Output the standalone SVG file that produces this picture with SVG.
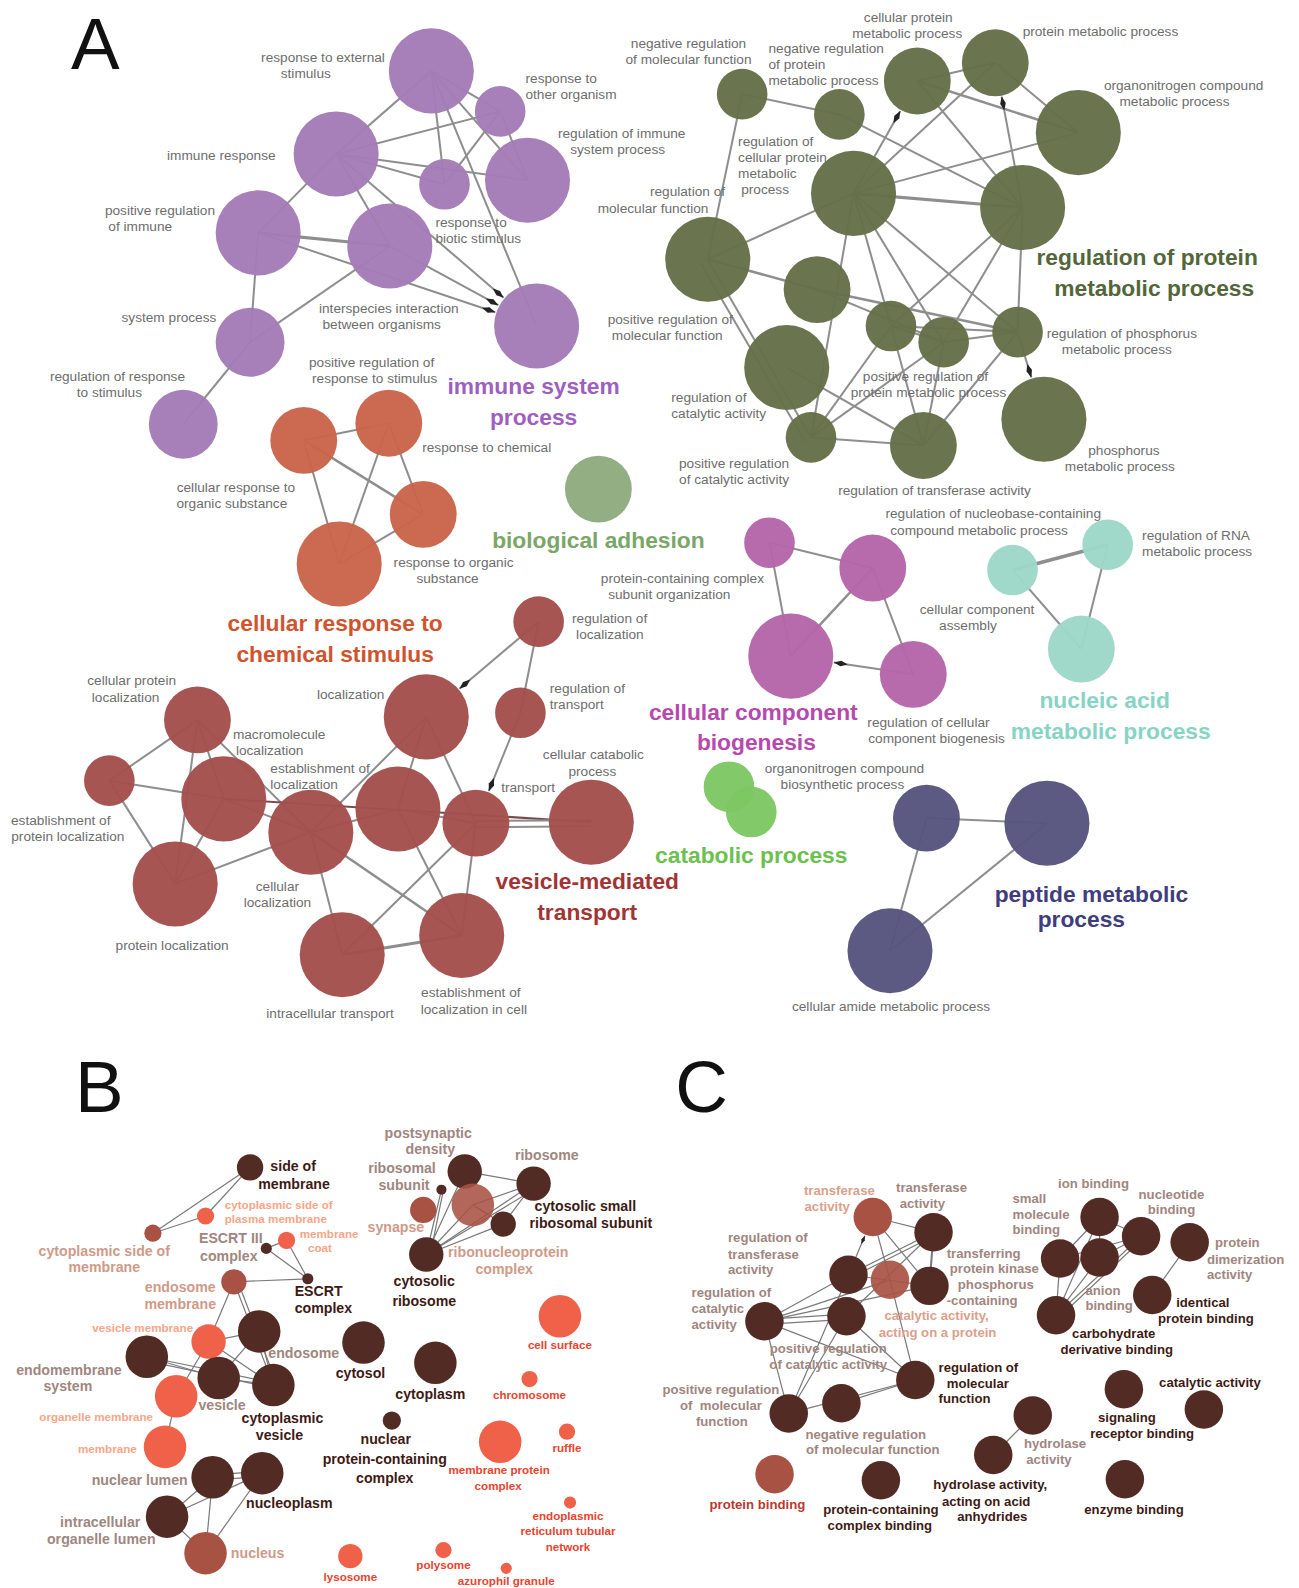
<svg xmlns="http://www.w3.org/2000/svg" width="1299" height="1588" viewBox="0 0 1299 1588">
<defs>
<style>
text{font-family:"Liberation Sans",Arial,Helvetica,sans-serif}
.la{font-size:13.5px;fill:#6d6d6d}
.ti{font-size:22.5px;font-weight:bold}
.bl{font-size:14px;font-weight:bold}
.cl{font-size:13px;font-weight:bold}
.sm{font-size:11.5px;font-weight:bold}
.pl{font-size:72px;fill:#111}
.m{text-anchor:middle}
.dk{fill:#3d1a14}.tn{fill:#a08680}.pk{fill:#cf9a88}.lo{fill:#f7a587}.ro{fill:#e8432e}.tf{fill:#dba08c}.pb{fill:#b8392e}
.np{fill:#a47cb8}.no{fill:#c9654a}.ng{fill:#8fab7e}.nv{fill:#657049}.nm{fill:#b566aa}.nc{fill:#9dd7c8}.nl{fill:#7ec764;opacity:0.8}.nn{fill:#57547f}.nr{fill:#a34f4d}
.A circle{opacity:0.97}
.bd{fill:#532b25}.bm{fill:#a85244}.bo{fill:#ef6249}
.ea line{stroke:#8e8e8e;stroke-width:2}
.eb line{stroke:#7a7a7a;stroke-width:1.2}
</style>
<marker id="dia" markerUnits="userSpaceOnUse" markerWidth="16" markerHeight="8" viewBox="0 0 16 8" refX="15" refY="4" orient="auto"><path d="M1,4 L8,1.2 L15,4 L8,6.8 Z" fill="#222"/></marker>
<marker id="dis" markerUnits="userSpaceOnUse" markerWidth="10" markerHeight="5" viewBox="0 0 10 5" refX="9.5" refY="2.5" orient="auto"><path d="M0.5,2.5 L5,0.7 L9.5,2.5 L5,4.3 Z" fill="#222"/></marker>
</defs>
<rect width="1299" height="1588" fill="#ffffff"/>
<g transform="scale(1.0125)">
<text class="pl" x="70" y="68">A</text>
<text class="pl" x="74" y="1098">B</text>
<text class="pl" x="667" y="1098">C</text>

<g id="connectors-A" class="ea">
<line x1="426" y1="70" x2="332" y2="152"/>
<line x1="332" y1="152" x2="494" y2="110"/>
<line x1="426" y1="70" x2="494" y2="110"/>
<line x1="426" y1="70" x2="521" y2="178"/>
<line x1="426" y1="70" x2="439" y2="182"/>
<line x1="426" y1="70" x2="530" y2="322"/>
<line x1="494" y1="110" x2="439" y2="182"/>
<line x1="494" y1="110" x2="521" y2="178"/>
<line x1="332" y1="152" x2="521" y2="178"/>
<line x1="332" y1="152" x2="439" y2="182"/>
<line x1="332" y1="152" x2="255" y2="230"/>
<line x1="332" y1="152" x2="385" y2="243"/>
<line x1="332" y1="152" x2="497.4" y2="294" marker-end="url(#dia)"/>
<line x1="255" y1="230" x2="385" y2="243" style="stroke-width:3"/>
<line x1="255" y1="230" x2="489.2" y2="308.4" marker-end="url(#dia)"/>
<line x1="385" y1="243" x2="492.2" y2="301.4" marker-end="url(#dia)"/>
<line x1="255" y1="230" x2="247" y2="338"/>
<line x1="385" y1="243" x2="247" y2="338"/>
<line x1="247" y1="338" x2="181" y2="419"/>
<line x1="300" y1="435" x2="384" y2="418"/>
<line x1="300" y1="435" x2="418" y2="508" style="stroke-width:2.5"/>
<line x1="300" y1="435" x2="335" y2="557"/>
<line x1="384" y1="418" x2="335" y2="557"/>
<line x1="384" y1="418" x2="418" y2="508"/>
<line x1="418" y1="508" x2="335" y2="557"/>
<line x1="733" y1="93" x2="829" y2="113"/>
<line x1="733" y1="93" x2="699" y2="256"/>
<line x1="829" y1="113" x2="1010" y2="205"/>
<line x1="906" y1="80" x2="983" y2="62"/>
<line x1="906" y1="80" x2="1065" y2="131" style="stroke-width:2.5"/>
<line x1="906" y1="80" x2="1010" y2="205"/>
<line x1="983" y1="62" x2="1065" y2="131"/>
<line x1="1010" y1="205" x2="989.3" y2="95.4" marker-end="url(#dia)"/>
<line x1="843" y1="191" x2="889.2" y2="109.6" marker-end="url(#dia)"/>
<line x1="983" y1="62" x2="843" y2="191"/>
<line x1="1065" y1="131" x2="843" y2="191"/>
<line x1="843" y1="191" x2="1010" y2="205" style="stroke-width:3"/>
<line x1="843" y1="191" x2="699" y2="256"/>
<line x1="843" y1="191" x2="801" y2="432"/>
<line x1="843" y1="191" x2="880" y2="322"/>
<line x1="843" y1="191" x2="932" y2="338"/>
<line x1="843" y1="191" x2="1005" y2="328"/>
<line x1="1010" y1="205" x2="880" y2="322"/>
<line x1="1010" y1="205" x2="932" y2="338"/>
<line x1="1010" y1="205" x2="1005" y2="328"/>
<line x1="699" y1="256" x2="807" y2="286" style="stroke-width:2.5"/>
<line x1="699" y1="256" x2="801" y2="432"/>
<line x1="692" y1="260" x2="795" y2="436"/>
<line x1="807" y1="286" x2="1005" y2="328" style="stroke-width:2.5"/>
<line x1="807" y1="286" x2="932" y2="338"/>
<line x1="880" y1="322" x2="932" y2="338"/>
<line x1="932" y1="338" x2="1005" y2="328"/>
<line x1="880" y1="322" x2="1005" y2="328"/>
<line x1="880" y1="322" x2="801" y2="432"/>
<line x1="932" y1="338" x2="801" y2="432"/>
<line x1="880" y1="322" x2="912" y2="440"/>
<line x1="932" y1="338" x2="912" y2="440"/>
<line x1="1005" y1="328" x2="912" y2="440"/>
<line x1="801" y1="432" x2="912" y2="440"/>
<line x1="777" y1="363" x2="912" y2="440"/>
<line x1="1005" y1="328" x2="1018.6" y2="372.8" marker-end="url(#dia)"/>
<line x1="760" y1="536" x2="862" y2="561"/>
<line x1="760" y1="536" x2="781" y2="648"/>
<line x1="862" y1="561" x2="781" y2="648" style="stroke-width:2.5"/>
<line x1="862" y1="561" x2="902" y2="666"/>
<line x1="902" y1="666" x2="823.5" y2="654.3" marker-end="url(#dia)"/>
<line x1="1000" y1="563" x2="1094" y2="538" style="stroke-width:3.5"/>
<line x1="1094" y1="538" x2="1068" y2="641"/>
<line x1="1000" y1="563" x2="1068" y2="641"/>
<line x1="915" y1="808" x2="1034" y2="813"/>
<line x1="915" y1="808" x2="879" y2="939"/>
<line x1="1034" y1="813" x2="879" y2="939"/>
<line x1="532" y1="614" x2="453.8" y2="680.2" marker-end="url(#dia)"/>
<line x1="532" y1="614" x2="514" y2="704"/>
<line x1="514" y1="704" x2="482.7" y2="781.4" marker-end="url(#dia)"/>
<line x1="421" y1="708" x2="307" y2="822"/>
<line x1="421" y1="708" x2="393" y2="799"/>
<line x1="421" y1="708" x2="470" y2="813"/>
<line x1="195" y1="711" x2="108" y2="771"/>
<line x1="195" y1="711" x2="221" y2="789"/>
<line x1="195" y1="711" x2="173" y2="873"/>
<line x1="195" y1="711" x2="307" y2="822"/>
<line x1="108" y1="771" x2="221" y2="789"/>
<line x1="108" y1="771" x2="173" y2="873"/>
<line x1="221" y1="789" x2="173" y2="873"/>
<line x1="221" y1="789" x2="307" y2="822"/>
<line x1="221" y1="789" x2="584" y2="812" style="stroke:#7a4b4b"/>
<line x1="173" y1="873" x2="307" y2="822"/>
<line x1="307" y1="822" x2="393" y2="799"/>
<line x1="307" y1="822" x2="338" y2="943"/>
<line x1="307" y1="822" x2="456" y2="924" style="stroke-width:2.5"/>
<line x1="393" y1="799" x2="470" y2="813"/>
<line x1="393" y1="799" x2="456" y2="924"/>
<line x1="470" y1="811" x2="584" y2="810"/>
<line x1="470" y1="817" x2="584" y2="816"/>
<line x1="470" y1="813" x2="338" y2="943"/>
<line x1="470" y1="813" x2="456" y2="924"/>
<line x1="338" y1="943" x2="456" y2="924" style="stroke-width:3"/>
</g>

<g class="A">
<g id="response-to-external-stimulus"><circle class="np" cx="426" cy="70" r="42"/><text class="la m" x="319" y="61">response to external</text><text class="la m" x="302" y="77">stimulus</text></g>
<g id="response-to-other-organism"><circle class="np" cx="494" cy="110" r="25"/><text class="la" x="519" y="82">response to</text><text class="la" x="519" y="98">other organism</text></g>
<g id="immune-response"><circle class="np" cx="332" cy="152" r="42"/><text class="la" x="165" y="158">immune response</text></g>
<g id="regulation-of-immune-system-process"><circle class="np" cx="521" cy="178" r="42"/><text class="la m" x="614" y="136">regulation of immune</text><text class="la m" x="610" y="152">system process</text></g>
<g id="response-to-biotic-stimulus"><circle class="np" cx="439" cy="182" r="25"/><text class="la" x="430" y="224">response to</text><text class="la" x="430" y="240">biotic stimulus</text></g>
<g id="positive-regulation-of-immune"><circle class="np" cx="255" cy="230" r="42"/><text class="la m" x="158" y="212">positive regulation</text><text class="la" x="107" y="228">of immune</text></g>
<g id="interspecies-interaction"><circle class="np" cx="385" cy="243" r="42"/><text class="la m" x="384" y="309">interspecies interaction</text><text class="la m" x="377" y="325">between organisms</text></g>
<g id="positive-regulation-of-response-to-stimulus"><circle class="np" cx="530" cy="322" r="42"/><text class="la m" x="367" y="362">positive regulation of</text><text class="la m" x="370" y="378">response to stimulus</text></g>
<g id="system-process"><circle class="np" cx="247" cy="338" r="34"/><text class="la" x="120" y="318">system process</text></g>
<g id="regulation-of-response-to-stimulus"><circle class="np" cx="181" cy="419" r="34"/><text class="la m" x="116" y="376">regulation of response</text><text class="la m" x="108" y="392">to stimulus</text></g>
<g id="title-immune"><text class="ti m" x="527" y="389" style="fill:#9e5fc0">immune system</text><text class="ti m" x="527" y="420" style="fill:#9e5fc0">process</text></g>

<g id="cellular-response-to-organic-substance"><circle class="no" cx="300" cy="435" r="33"/><text class="la m" x="233" y="486">cellular response to</text><text class="la m" x="229" y="502">organic substance</text></g>
<g id="response-to-chemical"><circle class="no" cx="384" cy="418" r="33"/><text class="la" x="417" y="446">response to chemical</text></g>
<g id="response-to-organic-substance"><circle class="no" cx="418" cy="508" r="33"/><text class="la m" x="448" y="560">response to organic</text><text class="la m" x="442" y="576">substance</text></g>
<g id="cellular-response-to-chemical-stimulus"><circle class="no" cx="335" cy="557" r="42"/><text class="ti m" x="331" y="623" style="fill:#d0532e">cellular response to</text><text class="ti m" x="331" y="654" style="fill:#d0532e">chemical stimulus</text></g>

<g id="biological-adhesion"><circle class="ng" cx="591" cy="483" r="33"/><text class="ti m" x="591" y="541" style="fill:#7aa768">biological adhesion</text></g>

<g id="negative-regulation-of-molecular-function"><circle class="nv" cx="733" cy="93" r="25"/><text class="la m" x="680" y="47">negative regulation</text><text class="la m" x="680" y="63">of molecular function</text></g>
<g id="negative-regulation-of-protein-metabolic-process"><circle class="nv" cx="829" cy="113" r="25"/><text class="la" x="759" y="52">negative regulation</text><text class="la" x="759" y="68">of protein</text><text class="la" x="759" y="84">metabolic process</text></g>
<g id="cellular-protein-metabolic-process"><circle class="nv" cx="906" cy="80" r="33"/><text class="la m" x="897" y="22">cellular protein</text><text class="la m" x="896" y="38">metabolic process</text></g>
<g id="protein-metabolic-process"><circle class="nv" cx="983" cy="62" r="33"/><text class="la" x="1010" y="36">protein metabolic process</text></g>
<g id="organonitrogen-compound-metabolic-process"><circle class="nv" cx="1065" cy="131" r="42"/><text class="la m" x="1169" y="89">organonitrogen compound</text><text class="la m" x="1160" y="105">metabolic process</text></g>
<g id="regulation-of-cellular-protein-metabolic-process"><circle class="nv" cx="843" cy="191" r="42"/><text class="la" x="729" y="144">regulation of</text><text class="la" x="729" y="160">cellular protein</text><text class="la" x="729" y="176">metabolic</text><text class="la" x="732" y="192">process</text></g>
<g id="regulation-of-protein-metabolic-process"><circle class="nv" cx="1010" cy="205" r="42"/><text class="ti m" x="1133" y="262" style="fill:#53663a">regulation of protein</text><text class="ti m" x="1140" y="292" style="fill:#53663a">metabolic process</text></g>
<g id="regulation-of-molecular-function"><circle class="nv" cx="699" cy="256" r="42"/><text class="la m" x="679" y="194">regulation of</text><text class="la m" x="645" y="210">molecular function</text></g>
<g id="positive-regulation-of-molecular-function"><circle class="nv" cx="807" cy="286" r="33"/><text class="la m" x="662" y="320">positive regulation of</text><text class="la m" x="659" y="336">molecular function</text></g>
<g id="positive-regulation-of-protein-metabolic-process"><circle class="nv" cx="880" cy="322" r="25"/><circle class="nv" cx="932" cy="338" r="25"/><text class="la m" x="914" y="376">positive regulation of</text><text class="la m" x="917" y="392">protein metabolic process</text></g>
<g id="regulation-of-phosphorus-metabolic-process"><circle class="nv" cx="1005" cy="328" r="25"/><text class="la m" x="1108" y="334">regulation of phosphorus</text><text class="la m" x="1103" y="350">metabolic process</text></g>
<g id="regulation-of-catalytic-activity"><circle class="nv" cx="777" cy="363" r="42"/><text class="la" x="663" y="397">regulation of</text><text class="la" x="663" y="413">catalytic activity</text></g>
<g id="positive-regulation-of-catalytic-activity"><circle class="nv" cx="801" cy="432" r="25"/><text class="la m" x="725" y="462">positive regulation</text><text class="la m" x="725" y="478">of catalytic activity</text></g>
<g id="regulation-of-transferase-activity"><circle class="nv" cx="912" cy="440" r="33"/><text class="la m" x="923" y="489">regulation of transferase activity</text></g>
<g id="phosphorus-metabolic-process"><circle class="nv" cx="1031" cy="414" r="42"/><text class="la m" x="1110" y="449">phosphorus</text><text class="la m" x="1106" y="465">metabolic process</text></g>

<g id="protein-containing-complex-subunit-organization"><circle class="nm" cx="760" cy="536" r="25"/><text class="la m" x="674" y="576">protein-containing complex</text><text class="la m" x="661" y="592">subunit organization</text></g>
<g id="regulation-of-nucleobase-containing"><circle class="nm" cx="862" cy="561" r="33"/><text class="la m" x="981" y="512">regulation of nucleobase-containing</text><text class="la m" x="967" y="528">compound metabolic process</text></g>
<g id="cellular-component-biogenesis"><circle class="nm" cx="781" cy="648" r="42"/><text class="ti m" x="744" y="711" style="fill:#b54aac">cellular component</text><text class="ti m" x="747" y="741" style="fill:#b54aac">biogenesis</text></g>
<g id="regulation-of-cellular-component-biogenesis"><circle class="nm" cx="902" cy="666" r="33"/><text class="la m" x="917" y="718">regulation of cellular</text><text class="la m" x="925" y="734">component biogenesis</text></g>

<g id="cellular-component-assembly"><circle class="nc" cx="1000" cy="563" r="25"/><text class="la m" x="965" y="606">cellular component</text><text class="la m" x="956" y="622">assembly</text></g>
<g id="regulation-of-RNA-metabolic-process"><circle class="nc" cx="1094" cy="538" r="25"/><text class="la" x="1128" y="533">regulation of RNA</text><text class="la" x="1128" y="549">metabolic process</text></g>
<g id="nucleic-acid-metabolic-process"><circle class="nc" cx="1068" cy="641" r="33"/><text class="ti m" x="1091" y="699" style="fill:#87d4c4">nucleic acid</text><text class="ti m" x="1097" y="730" style="fill:#87d4c4">metabolic process</text></g>

<g id="catabolic-process"><circle class="nl" cx="720" cy="777" r="25"/><text class="ti m" x="742" y="852" style="fill:#6cc04f">catabolic process</text></g>
<g id="organonitrogen-compound-biosynthetic-process"><circle class="nl" cx="742" cy="802" r="25"/><text class="la m" x="834" y="763">organonitrogen compound</text><text class="la m" x="832" y="779">biosynthetic process</text></g>

<g id="peptide-node-1"><circle class="nn" cx="915" cy="808" r="33"/></g>
<g id="peptide-metabolic-process"><circle class="nn" cx="1034" cy="813" r="42"/><text class="ti m" x="1078" y="891" style="fill:#403d7e">peptide metabolic</text><text class="ti m" x="1068" y="916" style="fill:#403d7e">process</text></g>
<g id="cellular-amide-metabolic-process"><circle class="nn" cx="879" cy="939" r="42"/><text class="la m" x="880" y="999">cellular amide metabolic process</text></g>

<g id="regulation-of-localization"><circle class="nr" cx="532" cy="614" r="25"/><text class="la" x="565" y="615">regulation of</text><text class="la" x="569" y="631">localization</text></g>
<g id="regulation-of-transport"><circle class="nr" cx="514" cy="704" r="25"/><text class="la" x="543" y="684">regulation of</text><text class="la" x="543" y="700">transport</text></g>
<g id="localization"><circle class="nr" cx="421" cy="708" r="42"/><text class="la" x="313" y="690">localization</text></g>
<g id="cellular-protein-localization"><circle class="nr" cx="195" cy="711" r="33"/><text class="la m" x="130" y="677">cellular protein</text><text class="la m" x="124" y="693">localization</text></g>
<g id="establishment-of-protein-localization"><circle class="nr" cx="108" cy="771" r="25"/><text class="la m" x="60" y="815">establishment of</text><text class="la m" x="67" y="831">protein localization</text></g>
<g id="macromolecule-localization"><circle class="nr" cx="221" cy="789" r="42"/><text class="la" x="230" y="730">macromolecule</text><text class="la" x="233" y="746">localization</text></g>
<g id="establishment-of-localization"><circle class="nr" cx="393" cy="799" r="42"/><text class="la" x="267" y="763">establishment of</text><text class="la" x="267" y="779">localization</text></g>
<g id="cellular-localization"><circle class="nr" cx="307" cy="822" r="42"/><text class="la m" x="274" y="880">cellular</text><text class="la m" x="274" y="896">localization</text></g>
<g id="transport"><circle class="nr" cx="470" cy="813" r="33"/><text class="la" x="495" y="782">transport</text></g>
<g id="cellular-catabolic-process"><circle class="nr" cx="584" cy="812" r="42"/><text class="la m" x="586" y="750">cellular catabolic</text><text class="la m" x="585" y="766">process</text></g>
<g id="protein-localization"><circle class="nr" cx="173" cy="873" r="42"/><text class="la m" x="170" y="938">protein localization</text></g>
<g id="intracellular-transport"><circle class="nr" cx="338" cy="943" r="42"/><text class="la m" x="326" y="1005">intracellular transport</text></g>
<g id="establishment-of-localization-in-cell"><circle class="nr" cx="456" cy="924" r="42"/><text class="la m" x="465" y="985">establishment of</text><text class="la m" x="468" y="1001">localization in cell</text></g>
<g id="title-vesicle"><text class="ti m" x="580" y="878" style="fill:#a13434">vesicle-mediated</text><text class="ti m" x="580" y="909" style="fill:#a13434">transport</text></g>
</g>

<g id="connectors-BC" class="eb">
<line x1="247" y1="1153" x2="151" y2="1218"/>
<line x1="247" y1="1153" x2="203" y2="1201"/>
<line x1="203" y1="1201" x2="151" y2="1218"/>
<line x1="263" y1="1233" x2="304" y2="1263"/>
<line x1="283" y1="1225" x2="304" y2="1263"/>
<line x1="263" y1="1233" x2="283" y2="1225"/>
<line x1="231" y1="1266" x2="304" y2="1263"/>
<line x1="231" y1="1266" x2="206" y2="1325"/>
<line x1="231" y1="1266" x2="270" y2="1368"/>
<line x1="235" y1="1266" x2="274" y2="1368"/>
<line x1="206" y1="1325" x2="256" y2="1315"/>
<line x1="206" y1="1325" x2="216" y2="1361"/>
<line x1="206" y1="1325" x2="174" y2="1379"/>
<line x1="206" y1="1325" x2="270" y2="1368"/>
<line x1="256" y1="1315" x2="216" y2="1361"/>
<line x1="256" y1="1315" x2="270" y2="1368"/>
<line x1="145" y1="1340" x2="270" y2="1366"/>
<line x1="145" y1="1344" x2="270" y2="1371"/>
<line x1="145" y1="1340" x2="216" y2="1361"/>
<line x1="216" y1="1361" x2="270" y2="1368"/>
<line x1="174" y1="1379" x2="163" y2="1429"/>
<line x1="210" y1="1457" x2="259" y2="1453"/>
<line x1="210" y1="1462" x2="259" y2="1458"/>
<line x1="210" y1="1459" x2="165" y2="1498"/>
<line x1="259" y1="1455" x2="165" y2="1498"/>
<line x1="210" y1="1459" x2="203" y2="1534"/>
<line x1="259" y1="1455" x2="203" y2="1534"/>
<line x1="165" y1="1498" x2="203" y2="1534"/>
<line x1="459" y1="1157" x2="527" y2="1169"/>
<line x1="467" y1="1190" x2="527" y2="1169"/>
<line x1="527" y1="1169" x2="497" y2="1209"/>
<line x1="467" y1="1190" x2="497" y2="1209"/>
<line x1="421" y1="1239" x2="436" y2="1175"/>
<line x1="425" y1="1239" x2="438" y2="1175"/>
<line x1="421" y1="1239" x2="459" y2="1157"/>
<line x1="421" y1="1239" x2="467" y2="1190"/>
<line x1="421" y1="1239" x2="527" y2="1169"/>
<line x1="421" y1="1239" x2="497" y2="1209"/>
<line x1="421" y1="1239" x2="527" y2="1175"/>
<line x1="862" y1="1202" x2="922" y2="1217"/>
<line x1="838" y1="1259" x2="854.2" y2="1220.4" marker-end="url(#dis)"/>
<line x1="862" y1="1202" x2="879" y2="1264"/>
<line x1="862" y1="1202" x2="918" y2="1270"/>
<line x1="922" y1="1217" x2="838" y2="1259"/>
<line x1="922" y1="1221" x2="838" y2="1263"/>
<line x1="922" y1="1217" x2="918" y2="1270" style="stroke-width:2"/>
<line x1="922" y1="1217" x2="836" y2="1300"/>
<line x1="838" y1="1259" x2="918" y2="1270"/>
<line x1="755" y1="1305" x2="838" y2="1259"/>
<line x1="755" y1="1305" x2="879" y2="1264"/>
<line x1="755" y1="1305" x2="918" y2="1270"/>
<line x1="755" y1="1303" x2="836" y2="1298"/>
<line x1="755" y1="1308" x2="836" y2="1303"/>
<line x1="755" y1="1305" x2="904" y2="1363"/>
<line x1="755" y1="1305" x2="779" y2="1396"/>
<line x1="838" y1="1259" x2="779" y2="1396"/>
<line x1="836" y1="1300" x2="779" y2="1396"/>
<line x1="836" y1="1300" x2="904" y2="1363"/>
<line x1="879" y1="1264" x2="904" y2="1363"/>
<line x1="779" y1="1396" x2="904" y2="1363"/>
<line x1="831" y1="1386" x2="904" y2="1363"/>
<line x1="1020" y1="1398" x2="981" y2="1437"/>
<line x1="1086" y1="1202" x2="1127" y2="1221"/>
<line x1="1086" y1="1202" x2="1047" y2="1243"/>
<line x1="1086" y1="1202" x2="1086" y2="1242"/>
<line x1="1047" y1="1243" x2="1127" y2="1221"/>
<line x1="1086" y1="1242" x2="1127" y2="1221"/>
<line x1="1047" y1="1243" x2="1043" y2="1299"/>
<line x1="1086" y1="1242" x2="1043" y2="1299"/>
<line x1="1127" y1="1221" x2="1043" y2="1299"/>
<line x1="1127" y1="1225" x2="1046" y2="1301"/>
<line x1="1086" y1="1202" x2="1043" y2="1299"/>
<line x1="1175" y1="1227" x2="1138" y2="1279"/>
</g>

<g id="side-of-membrane"><circle class="bd" cx="247" cy="1153" r="13"/><text class="bl dk" x="267" y="1157">side of</text><text class="bl dk" x="255" y="1174">membrane</text></g>
<g id="cytoplasmic-side-of-plasma-membrane"><circle class="bo" cx="203" cy="1201" r="8.5"/><text class="sm lo" x="222" y="1194">cytoplasmic side of</text><text class="sm lo" x="222" y="1208">plasma membrane</text></g>
<g id="cytoplasmic-side-of-membrane"><circle class="bm" cx="151" cy="1218" r="8.5"/><text class="bl pk m" x="103" y="1240">cytoplasmic side of</text><text class="bl pk m" x="103" y="1256">membrane</text></g>
<g id="ESCRT-III-complex"><circle class="bd" cx="263" cy="1233" r="5.5"/><text class="bl tn m" x="228" y="1228">ESCRT III</text><text class="bl tn m" x="226" y="1245">complex</text></g>
<g id="membrane-coat"><circle class="bo" cx="283" cy="1225" r="8.5"/><text class="sm lo" x="296" y="1223">membrane</text><text class="sm lo m" x="316" y="1237">coat</text></g>
<g id="ESCRT-complex"><circle class="bd" cx="304" cy="1263" r="5.5"/><text class="bl dk" x="291" y="1280">ESCRT</text><text class="bl dk" x="291" y="1297">complex</text></g>
<g id="endosome-membrane"><circle class="bm" cx="231" cy="1266" r="12.5"/><text class="bl pk m" x="178" y="1276">endosome</text><text class="bl pk m" x="178" y="1293">membrane</text></g>
<g id="vesicle-membrane"><circle class="bo" cx="206" cy="1325" r="17"/><text class="sm lo m" x="141" y="1316">vesicle membrane</text></g>
<g id="endosome"><circle class="bd" cx="256" cy="1315" r="21"/><text class="bl tn" x="265" y="1341">endosome</text></g>
<g id="endomembrane-system"><circle class="bd" cx="145" cy="1340" r="21"/><text class="bl tn m" x="68" y="1358">endomembrane</text><text class="bl tn m" x="67" y="1374">system</text></g>
<g id="vesicle"><circle class="bd" cx="216" cy="1361" r="21"/><text class="bl tn" x="196" y="1393">vesicle</text></g>
<g id="cytoplasmic-vesicle"><circle class="bd" cx="270" cy="1368" r="21"/><text class="bl dk m" x="279" y="1405">cytoplasmic</text><text class="bl dk m" x="276" y="1422">vesicle</text></g>
<g id="organelle-membrane"><circle class="bo" cx="174" cy="1379" r="21"/><text class="sm lo m" x="95" y="1403">organelle membrane</text></g>
<g id="membrane"><circle class="bo" cx="163" cy="1429" r="21"/><text class="sm lo m" x="106" y="1435">membrane</text></g>
<g id="nuclear-lumen"><circle class="bd" cx="210" cy="1459" r="21"/><text class="bl tn m" x="138" y="1467">nuclear lumen</text></g>
<g id="nucleoplasm"><circle class="bd" cx="259" cy="1455" r="21"/><text class="bl dk" x="243" y="1489">nucleoplasm</text></g>
<g id="intracellular-organelle-lumen"><circle class="bd" cx="165" cy="1498" r="21"/><text class="bl tn m" x="99" y="1508">intracellular</text><text class="bl tn m" x="100" y="1525">organelle lumen</text></g>
<g id="nucleus"><circle class="bm" cx="203" cy="1534" r="21"/><text class="bl pk" x="228" y="1539">nucleus</text></g>
<g id="cytosol"><circle class="bd" cx="359" cy="1326" r="21"/><text class="bl dk m" x="356" y="1361">cytosol</text></g>
<g id="cytoplasm"><circle class="bd" cx="430" cy="1346" r="21"/><text class="bl dk m" x="425" y="1382">cytoplasm</text></g>
<g id="nuclear-protein-containing-complex"><circle class="bd" cx="387" cy="1403" r="9"/><text class="bl dk m" x="381" y="1426">nuclear</text><text class="bl dk m" x="380" y="1446">protein-containing</text><text class="bl dk m" x="380" y="1465">complex</text></g>
<g id="postsynaptic-density"><circle class="bd" cx="459" cy="1157" r="17"/><text class="bl tn m" x="423" y="1124">postsynaptic</text><text class="bl tn m" x="425" y="1140">density</text></g>
<g id="ribosomal-subunit"><circle class="bd" cx="436" cy="1175" r="5"/><text class="bl tn m" x="397" y="1159">ribosomal</text><text class="bl tn m" x="399" y="1175">subunit</text></g>
<g id="synapse"><circle class="bm" cx="418" cy="1195" r="13"/><text class="bl pk m" x="391" y="1217">synapse</text></g>
<g id="ribonucleoprotein-complex"><circle class="bm" cx="467" cy="1190" r="21" opacity="0.88"/><text class="bl pk m" x="502" y="1241">ribonucleoprotein</text><text class="bl pk m" x="498" y="1258">complex</text></g>
<g id="ribosome"><circle class="bd" cx="527" cy="1169" r="17"/><text class="bl tn m" x="540" y="1146">ribosome</text></g>
<g id="cytosolic-small-ribosomal-subunit"><circle class="bd" cx="497" cy="1209" r="12.5"/><text class="bl dk" x="528" y="1196">cytosolic small</text><text class="bl dk" x="523" y="1213">ribosomal subunit</text></g>
<g id="cytosolic-ribosome"><circle class="bd" cx="421" cy="1239" r="17"/><text class="bl dk m" x="419" y="1270">cytosolic</text><text class="bl dk m" x="419" y="1290">ribosome</text></g>
<g id="cell-surface"><circle class="bo" cx="553" cy="1300" r="21"/><text class="sm ro m" x="553" y="1332">cell surface</text></g>
<g id="chromosome"><circle class="bo" cx="523" cy="1362" r="8"/><text class="sm ro m" x="523" y="1382">chromosome</text></g>
<g id="membrane-protein-complex"><circle class="bo" cx="494" cy="1424" r="21"/><text class="sm ro m" x="493" y="1456">membrane protein</text><text class="sm ro m" x="492" y="1472">complex</text></g>
<g id="ruffle"><circle class="bo" cx="560" cy="1414" r="8"/><text class="sm ro m" x="560" y="1434">ruffle</text></g>
<g id="endoplasmic-reticulum-tubular-network"><circle class="bo" cx="563" cy="1484" r="6"/><text class="sm ro m" x="561" y="1501">endoplasmic</text><text class="sm ro m" x="561" y="1516">reticulum tubular</text><text class="sm ro m" x="561" y="1532">network</text></g>
<g id="lysosome"><circle class="bo" cx="346" cy="1537" r="12"/><text class="sm ro m" x="346" y="1561">lysosome</text></g>
<g id="polysome"><circle class="bo" cx="438" cy="1531" r="8"/><text class="sm ro m" x="438" y="1550">polysome</text></g>
<g id="azurophil-granule"><circle class="bo" cx="500" cy="1549" r="5.5"/><text class="sm ro m" x="500" y="1565">azurophil granule</text></g>

<g id="transferase-activity-1"><circle class="bm" cx="862" cy="1202" r="19"/><text class="cl tf m" x="829" y="1180">transferase</text><text class="cl tf m" x="817" y="1196">activity</text></g>
<g id="transferase-activity-2"><circle class="bd" cx="922" cy="1217" r="19"/><text class="cl tn m" x="920" y="1177">transferase</text><text class="cl tn m" x="911" y="1193">activity</text></g>
<g id="regulation-of-transferase-activity-C"><circle class="bd" cx="838" cy="1259" r="19"/><text class="cl tn" x="719" y="1227">regulation of</text><text class="cl tn" x="719" y="1243">transferase</text><text class="cl tn" x="719" y="1258">activity</text></g>
<g id="catalytic-activity-acting-on-a-protein"><circle class="bm" cx="879" cy="1264" r="19" opacity="0.92"/><text class="cl tf m" x="925" y="1304">catalytic activity,</text><text class="cl tf m" x="926" y="1320">acting on a protein</text></g>
<g id="transferring-phosphorus"><circle class="bd" cx="918" cy="1270" r="19"/><text class="cl tn" x="935" y="1242">transferring</text><text class="cl tn" x="938" y="1257">protein kinase</text><text class="cl tn" x="946" y="1273">phosphorus</text><text class="cl tn" x="935" y="1289">-containing</text></g>
<g id="regulation-of-catalytic-activity-C"><circle class="bd" cx="755" cy="1305" r="19"/><text class="cl tn" x="683" y="1281">regulation of</text><text class="cl tn" x="683" y="1297">catalytic</text><text class="cl tn" x="683" y="1313">activity</text></g>
<g id="positive-regulation-of-catalytic-activity-C"><circle class="bd" cx="836" cy="1300" r="19"/><text class="cl tn m" x="818" y="1336">positive regulation</text><text class="cl tn m" x="818" y="1352">of catalytic activity</text></g>
<g id="regulation-of-molecular-function-C"><circle class="bd" cx="904" cy="1363" r="19"/><text class="cl dk" x="927" y="1355">regulation of</text><text class="cl dk" x="935" y="1371">molecular</text><text class="cl dk" x="927" y="1386">function</text></g>
<g id="positive-regulation-of-molecular-function-C"><circle class="bd" cx="779" cy="1396" r="19"/><text class="cl tn m" x="712" y="1377">positive regulation</text><text class="cl tn m" x="712" y="1393" xml:space="preserve">of  molecular</text><text class="cl tn m" x="713" y="1408">function</text></g>
<g id="negative-regulation-of-molecular-function-C"><circle class="bd" cx="831" cy="1386" r="19"/><text class="cl tn m" x="855" y="1421">negative regulation</text><text class="cl tn m" x="862" y="1436">of molecular function</text></g>
<g id="protein-binding"><circle class="bm" cx="765" cy="1456" r="19"/><text class="cl pb m" x="748" y="1490">protein binding</text></g>
<g id="protein-containing-complex-binding"><circle class="bd" cx="870" cy="1462" r="19"/><text class="cl dk m" x="870" y="1495">protein-containing</text><text class="cl dk m" x="869" y="1511">complex binding</text></g>
<g id="hydrolase-activity"><circle class="bd" cx="1020" cy="1398" r="19"/><text class="cl tn m" x="1042" y="1430">hydrolase</text><text class="cl tn m" x="1036" y="1446">activity</text></g>
<g id="hydrolase-activity-acid-anhydrides"><circle class="bd" cx="981" cy="1437" r="19"/><text class="cl dk m" x="978" y="1471">hydrolase activity,</text><text class="cl dk m" x="974" y="1487">acting on acid</text><text class="cl dk m" x="980" y="1502">anhydrides</text></g>
<g id="signaling-receptor-binding"><circle class="bd" cx="1110" cy="1372" r="19"/><text class="cl dk m" x="1113" y="1404">signaling</text><text class="cl dk m" x="1128" y="1420">receptor binding</text></g>
<g id="catalytic-activity"><circle class="bd" cx="1189" cy="1392" r="19"/><text class="cl dk m" x="1195" y="1370">catalytic activity</text></g>
<g id="enzyme-binding"><circle class="bd" cx="1111" cy="1461" r="19"/><text class="cl dk m" x="1120" y="1495">enzyme binding</text></g>
<g id="ion-binding"><circle class="bd" cx="1086" cy="1202" r="19"/><text class="cl tn m" x="1080" y="1173">ion binding</text></g>
<g id="nucleotide-binding"><circle class="bd" cx="1127" cy="1221" r="19"/><text class="cl tn m" x="1157" y="1184">nucleotide</text><text class="cl tn m" x="1157" y="1199">binding</text></g>
<g id="small-molecule-binding"><circle class="bd" cx="1047" cy="1243" r="19"/><text class="cl tn" x="1000" y="1188">small</text><text class="cl tn" x="1000" y="1204">molecule</text><text class="cl tn" x="1000" y="1219">binding</text></g>
<g id="anion-binding"><circle class="bd" cx="1086" cy="1242" r="19"/><text class="cl tn" x="1072" y="1279">anion</text><text class="cl tn" x="1072" y="1294">binding</text></g>
<g id="protein-dimerization-activity"><circle class="bd" cx="1175" cy="1227" r="19"/><text class="cl tn" x="1200" y="1232">protein</text><text class="cl tn" x="1192" y="1248">dimerization</text><text class="cl tn" x="1192" y="1263">activity</text></g>
<g id="carbohydrate-derivative-binding"><circle class="bd" cx="1043" cy="1299" r="19"/><text class="cl dk m" x="1100" y="1321">carbohydrate</text><text class="cl dk m" x="1103" y="1337">derivative binding</text></g>
<g id="identical-protein-binding"><circle class="bd" cx="1138" cy="1279" r="19"/><text class="cl dk m" x="1188" y="1291">identical</text><text class="cl dk m" x="1191" y="1307">protein binding</text></g>
</g>
</svg>
